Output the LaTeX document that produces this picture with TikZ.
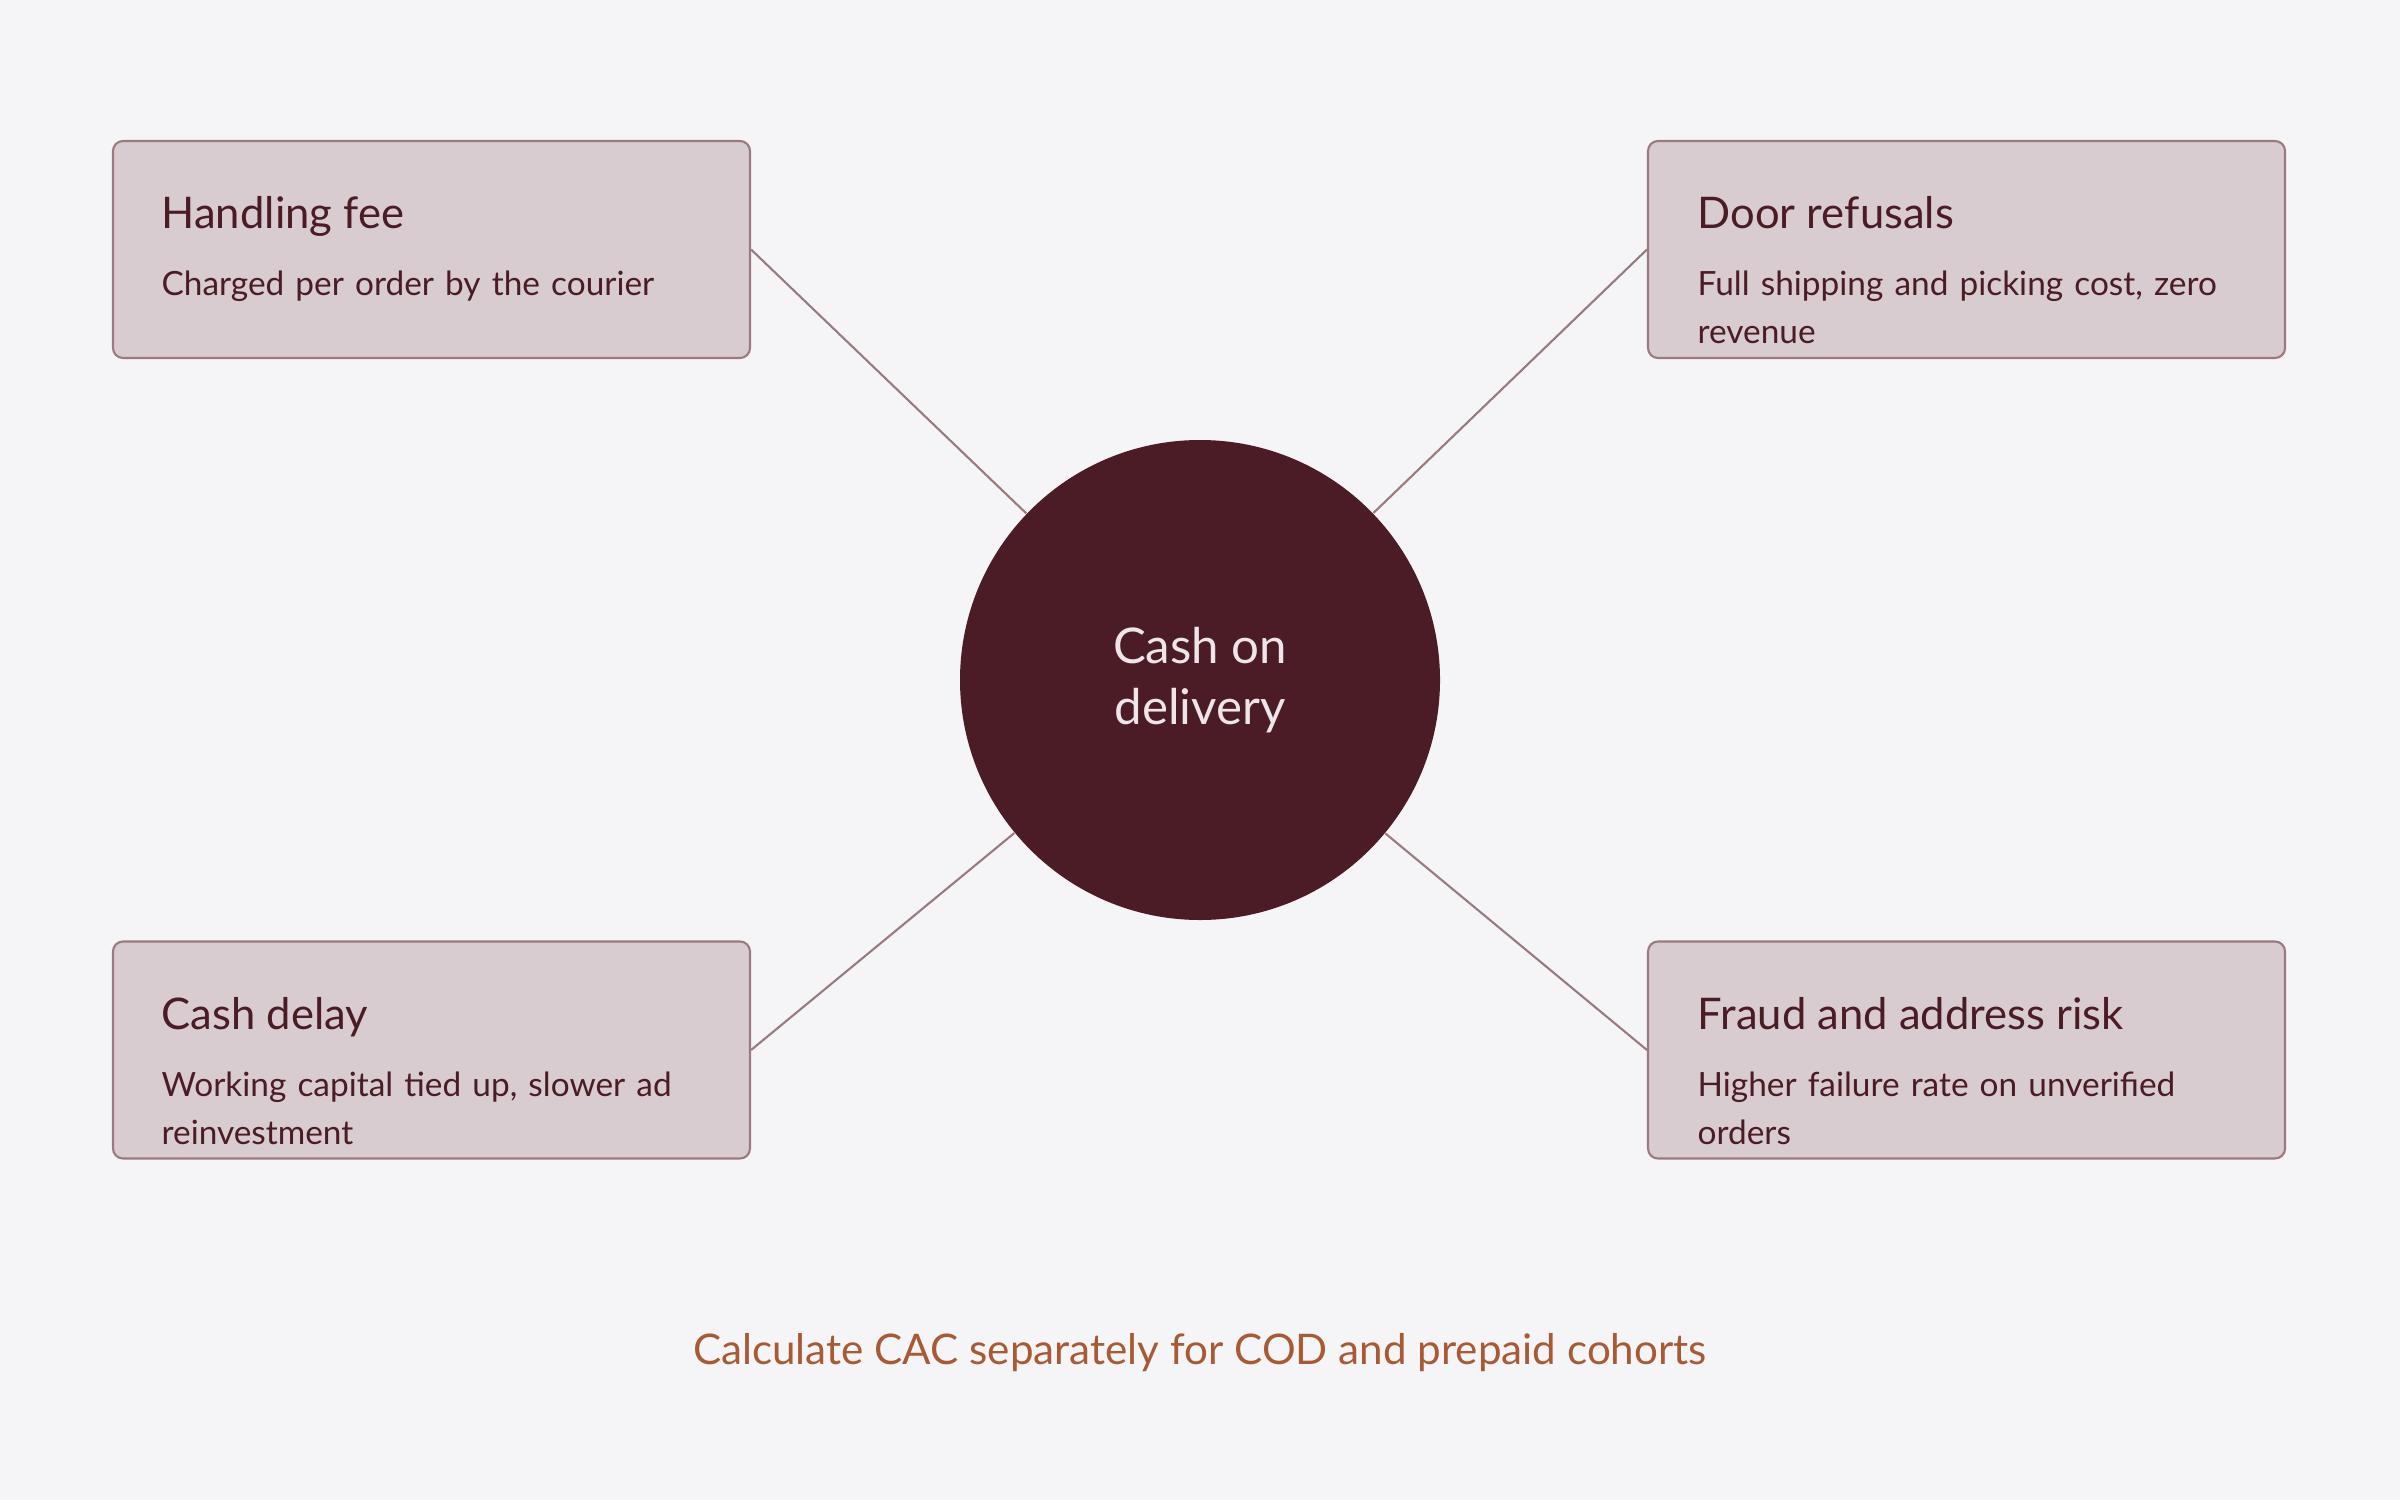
\documentclass[tikz,border=0pt]{standalone}
\usepackage{fontspec}
\setmainfont{Lato}
\usetikzlibrary{calc}

\definecolor{bgcol}{HTML}{F5F5F7}
\definecolor{cardfill}{HTML}{D8CCD0}
\definecolor{cardline}{HTML}{9A7A7E}
\definecolor{wine}{HTML}{4B1C25}
\definecolor{hubtext}{HTML}{EDE5E7}
\definecolor{rust}{HTML}{A85A35}

\begin{document}
\begin{tikzpicture}[font = \small,
  card/.style = {draw=cardline, line width=0.6pt, fill=cardfill, rounded corners=0.1cm,
                 minimum width=6.37cm, minimum height=2.17cm, inner sep=0pt},
  cardtitle/.style = {anchor=base west, inner sep=0pt, text=wine,
                      font=\fontsize{12.4}{15}\selectfont},
  cardbody/.style = {anchor=base west, inner sep=0pt, text=wine, text width=5.8cm,
                     align=left, font=\fontsize{9.5}{13.6}\selectfont},
  hub/.style = {circle, fill=wine, minimum size=4.8cm, inner sep=0pt, text=hubtext,
                align=center, font=\fontsize{14}{17.5}\selectfont},
  link/.style = {draw=cardline, line width=0.6pt}]

  % Sfondo e dimensioni
  \fill[bgcol] (0,0) rectangle (24,15);
  \useasboundingbox (0,0) rectangle (24,15);

  % Cerchio centrale
  \node[hub] (cod) at (12,8.2) {Cash on\\delivery};

  % Riquadri
  \node[card] (fee) at (4.315,12.505) {};
  \node[card] (refusal) at (19.665,12.505) {};
  \node[card] (delay) at (4.315,4.5) {};
  \node[card] (fraud) at (19.665,4.5) {};

  % Titoli e testi dei riquadri
  \node[cardtitle] (feet) at ($(fee.north west)+(0.49,-0.89)$) {Handling fee};
  \node[cardbody] (feeb) at ($(fee.north west)+(0.49,-1.56)$) {Charged per order by the courier};

  \node[cardtitle] (refusalt) at ($(refusal.north west)+(0.5,-0.89)$) {Door refusals};
  \node[cardbody] (refusalb) at ($(refusal.north west)+(0.5,-1.56)$) {Full shipping and picking cost, zero\\revenue};

  \node[cardtitle] (delayt) at ($(delay.north west)+(0.49,-0.89)$) {Cash delay};
  \node[cardbody] (delayb) at ($(delay.north west)+(0.49,-1.56)$) {Working capital tied up, slower ad\\reinvestment};

  \node[cardtitle] (fraudt) at ($(fraud.north west)+(0.5,-0.89)$) {Fraud and address risk};
  \node[cardbody] (fraudb) at ($(fraud.north west)+(0.5,-1.56)$) {Higher failure rate on unverified\\orders};

  % Collegamenti verso il cerchio
  \draw[link] (fee.east) -- (cod);
  \draw[link] (refusal.west) -- (cod);
  \draw[link] (delay.east) -- (cod);
  \draw[link] (fraud.west) -- (cod);

  % Nota in basso
  \node[anchor=base, text=rust, font=\fontsize{12}{14}\selectfont] (note) at (12,1.36)
    {Calculate CAC separately for COD and prepaid cohorts};
\end{tikzpicture}
\end{document}
